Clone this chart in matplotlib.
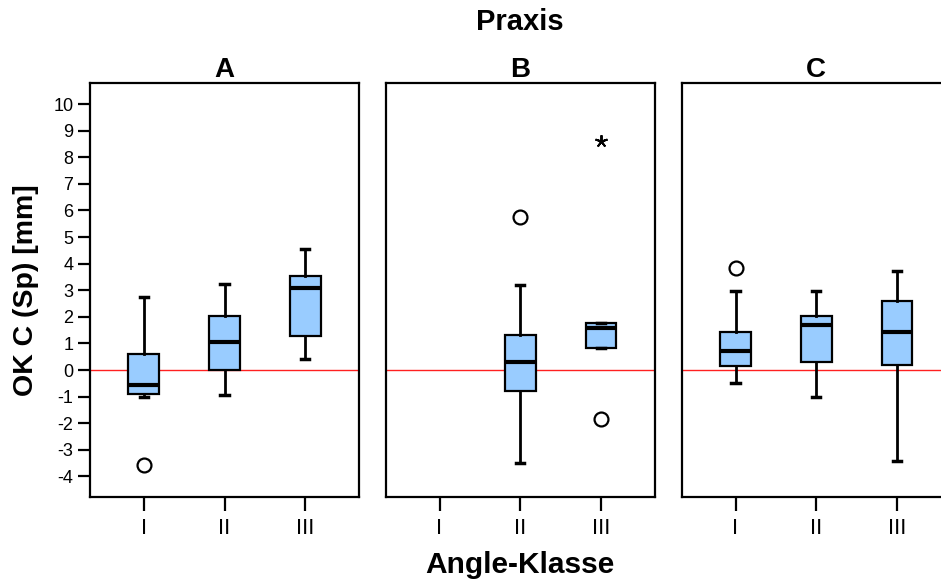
import numpy as np
import matplotlib.pyplot as plt

plt.rcParams['font.family'] = ['Liberation Sans', 'DejaVu Sans']
plt.rcParams['axes.unicode_minus'] = False

# Angle-Klasse categories and panel names
klassen = ['I', 'II', 'III']
panels = ['A', 'B', 'C']

# boxplot stats per panel, per class: (whislo, q1, median, q3, whishi)
stats_A = [(-1.00, -0.91, -0.58, 0.59, 2.76),
           (-0.94, 0.00, 1.05, 2.04, 3.23),
           (0.43, 1.27, 3.07, 3.53, 4.54)]
stats_B = [None,
           (-3.51, -0.79, 0.31, 1.32, 3.18),
           (0.84, 0.84, 1.59, 1.78, 1.78)]
stats_C = [(-0.50, 0.15, 0.71, 1.42, 2.97),
           (-1.00, 0.31, 1.68, 2.04, 2.96),
           (-3.40, 0.18, 1.42, 2.59, 3.71)]

# outliers (circles) and extremes (stars)
outl_A = [[-3.57], [], []]
outl_B = [[], [5.76], [-1.85]]
outl_C = [[3.85], [], []]
extr_B = [[], [], [8.62]]

all_stats = [stats_A, stats_B, stats_C]
all_outl = [outl_A, outl_B, outl_C]
all_extr = [[[], [], []], extr_B, [[], [], []]]

W, H = 941, 583
fig = plt.figure(figsize=(W / 100, H / 100), dpi=100)

lefts = [90, 385.7, 681.7]
ax_w = 269
ax_top, ax_bot = 83, 496.7

for i, name in enumerate(panels):
    ax = fig.add_axes([lefts[i] / W, (H - ax_bot) / H, ax_w / W, (ax_bot - ax_top) / H])
    bstats = []
    pos = []
    for j, s in enumerate(all_stats[i]):
        if s is None:
            continue
        lo, q1, med, q3, hi = s
        bstats.append(dict(whislo=lo, q1=q1, med=med, q3=q3, whishi=hi, fliers=[]))
        pos.append(j + 1)
    ax.axhline(0, color='#ff2020', lw=1.0, zorder=1)
    ax.bxp(bstats, positions=pos, widths=0.38, patch_artist=True, showfliers=False,
           boxprops=dict(facecolor='#99ccff', edgecolor='black', linewidth=1.6),
           medianprops=dict(color='black', linewidth=3.0),
           whiskerprops=dict(color='black', linewidth=2.0),
           capprops=dict(color='black', linewidth=2.5),
           capwidths=0.1, zorder=2)
    for j in range(3):
        o = all_outl[i][j]
        if o:
            ax.plot([j + 1] * len(o), o, 'o', ms=10, mfc='white', mec='black', mew=1.6, zorder=3)
        e = all_extr[i][j]
        if e:
            ax.plot([j + 1] * len(e), e, marker=(5, 2, 0), ms=9, color='black', mew=1.4,
                    ls='none', zorder=3)

    ax.set_xlim(0.333, 3.667)
    ax.set_ylim(-4.76, 10.79)
    ax.set_xticks([1, 2, 3])
    ax.set_xticklabels(klassen, fontsize=16)
    ax.tick_params(axis='x', length=10, width=1.6, pad=5, direction='out')
    if i == 0:
        ax.set_yticks(np.arange(-4, 11, 1))
        ax.tick_params(axis='y', length=9, width=1.6, pad=3, labelsize=13)
    else:
        ax.set_yticks([])
    for sp in ax.spines.values():
        sp.set_linewidth(1.6)
    ax.set_title(name, fontsize=20, fontweight='bold', pad=3)

fig.text(520 / W, 1 - 22 / H, 'Praxis', ha='center', va='center', fontsize=21, fontweight='bold')
fig.text(520 / W, 1 - 565 / H, 'Angle-Klasse', ha='center', va='center', fontsize=21.5, fontweight='bold')
fig.text(26 / W, 1 - 290 / H, 'OK C (Sp) [mm]', ha='center', va='center', rotation=90,
         fontsize=20.5, fontweight='bold')

fig.savefig('out.png', dpi=100)
